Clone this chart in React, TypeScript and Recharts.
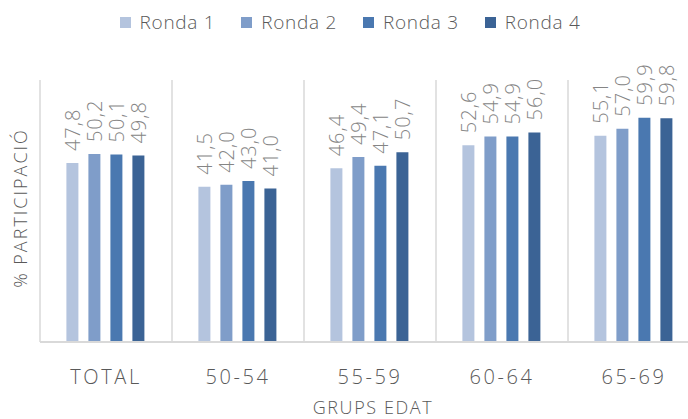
import { BarChart, Bar, XAxis, YAxis, CartesianGrid, LabelList } from "recharts";

const categories = ["TOTAL", "50-54", "55-59", "60-64", "65-69"];
const ronda1 = [47.8, 41.5, 46.4, 52.6, 55.1];
const ronda2 = [50.2, 42.0, 49.4, 54.9, 57.0];
const ronda3 = [50.1, 43.0, 47.1, 54.9, 59.9];
const ronda4 = [49.8, 41.0, 50.7, 56.0, 59.8];

const series = [
  { key: "r1", name: "Ronda 1", color: "#b4c4de", values: ronda1 },
  { key: "r2", name: "Ronda 2", color: "#7f9dc9", values: ronda2 },
  { key: "r3", name: "Ronda 3", color: "#4a78b0", values: ronda3 },
  { key: "r4", name: "Ronda 4", color: "#3b6395", values: ronda4 },
];

const data = categories.map((cat, i) => {
  const row: Record<string, string | number> = { cat };
  series.forEach((s) => (row[s.key] = s.values[i]));
  return row;
});

const FONT = "'Open Sans', sans-serif";

const fmt = (v: number) => v.toFixed(1).replace(".", ",");

function ValueLabel(props: any) {
  const { x, y, width, value } = props;
  const cx = x + width / 2;
  const cy = y - 12;
  return (
    <text
      x={cx}
      y={cy}
      transform={`rotate(-90 ${cx} ${cy})`}
      textAnchor="start"
      dominantBaseline="central"
      fontFamily={FONT}
      fontWeight={300}
      fontSize={20}
      letterSpacing={1}
      fill="#858585"
    >
      {fmt(value)}
    </text>
  );
}

function CatTick(props: any) {
  const { x, y, payload } = props;
  return (
    <text
      x={x}
      y={y + 40}
      textAnchor="middle"
      fontFamily={FONT}
      fontWeight={300}
      fontSize={20}
      letterSpacing={2.6}
      fill="#595959"
    >
      {payload.value}
    </text>
  );
}

export default function App() {
  return (
    <div
      style={{
        position: "absolute",
        left: 0,
        top: 0,
        width: 688,
        height: 419,
        overflow: "hidden",
        background: "#fff",
      }}
    >
      <div
        style={{
          position: "absolute",
          top: 8,
          left: 0,
          width: 700,
          display: "flex",
          justifyContent: "center",
          gap: 26,
          fontFamily: FONT,
          fontWeight: 300,
          fontSize: 19,
          color: "#595959",
          lineHeight: "28px",
        }}
      >
        {series.map((s) => (
          <div key={s.key} style={{ display: "flex", alignItems: "center" }}>
            <span style={{ width: 11, height: 11, background: s.color, marginRight: 9 }} />
            <span style={{ letterSpacing: 0.7 }}>{s.name}</span>
          </div>
        ))}
      </div>
      <BarChart
        width={700}
        height={419}
        data={data}
        margin={{ top: 80, right: 0, left: 40, bottom: 37 }}
        barCategoryGap="20%"
        barGap={10}
      >
        <CartesianGrid
          horizontal={false}
          stroke="#d9d9d9"
          strokeWidth={1.5}
          verticalCoordinatesGenerator={({ offset }: any) =>
            categories.map((_, i) => offset.left + (i * offset.width) / categories.length)
          }
        />
        <XAxis
          dataKey="cat"
          height={40}
          tickLine={false}
          tickSize={0}
          axisLine={{ stroke: "#d9d9d9", strokeWidth: 2 }}
          tick={<CatTick />}
          interval={0}
        />
        <YAxis hide domain={[0, 70]} />
        {series.map((s) => (
          <Bar key={s.key} dataKey={s.key} name={s.name} fill={s.color} isAnimationActive={false}>
            <LabelList dataKey={s.key} content={<ValueLabel />} />
          </Bar>
        ))}
        <text
          x={373}
          y={414}
          textAnchor="middle"
          fontFamily={FONT}
          fontWeight={300}
          fontSize={18}
          letterSpacing={1.6}
          fill="#595959"
        >
          GRUPS EDAT
        </text>
        <text
          x={20}
          y={208}
          transform="rotate(-90 20 208)"
          textAnchor="middle"
          dominantBaseline="central"
          fontFamily={FONT}
          fontWeight={300}
          fontSize={18}
          letterSpacing={2}
          fill="#595959"
        >
          % PARTICIPACIÓ
        </text>
      </BarChart>
    </div>
  );
}
